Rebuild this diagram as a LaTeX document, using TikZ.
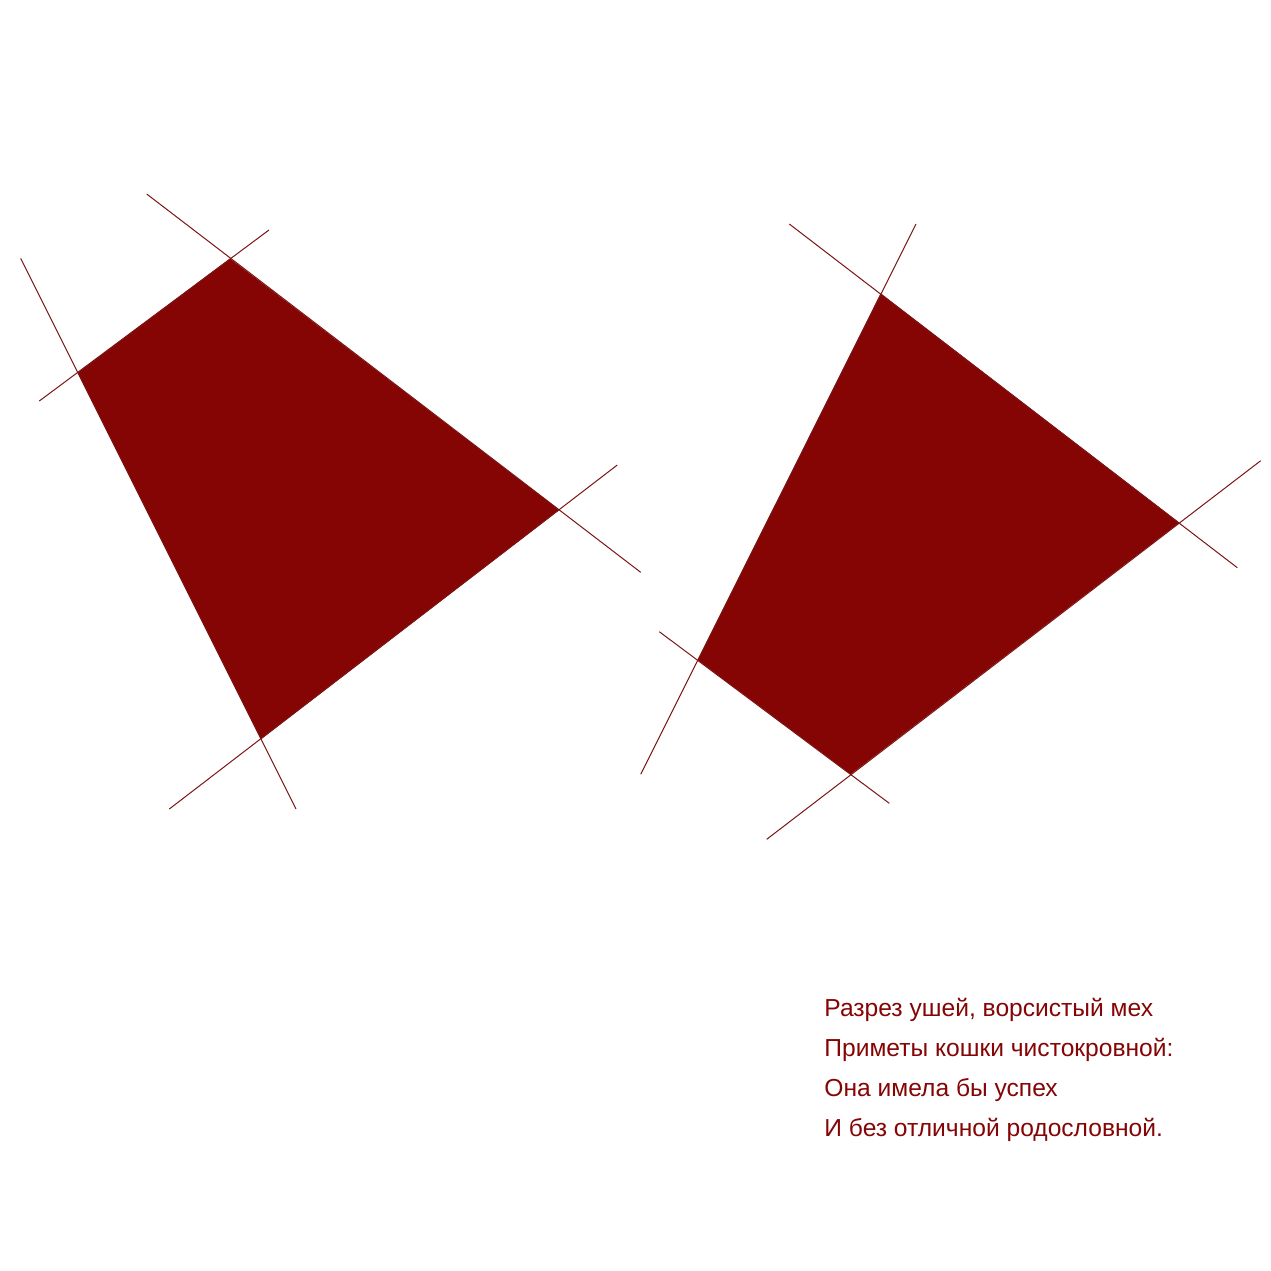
\documentclass[tikz,border=0pt]{standalone}
\usepackage{fontspec}
\setmainfont{Liberation Sans}
\usepackage{tikz}
\usetikzlibrary{positioning,calc}
\definecolor{catred}{RGB}{133,5,5}
\definecolor{linered}{RGB}{125,20,20}

\begin{document}
\begin{tikzpicture}[x=0.5pt, y=-0.5pt,
  ear/.style={fill=catred, draw=none},
  guide/.style={draw=linered, line width=0.5pt},
  verse/.style={anchor=base west, inner sep=0pt, text=catred, font=\fontsize{12.3}{14}\selectfont},
]
  \useasboundingbox (0,0) rectangle (1271,1271);

  % left ear
  \coordinate (lA) at (230,258.5);
  \coordinate (lB) at (77.7,372.7);
  \coordinate (lC) at (261,739.3);
  \coordinate (lD) at (559.3,510);
  \fill[ear] (lA) -- (lB) -- (lC) -- (lD) -- cycle;

  \coordinate (lAo) at (146.7,194);
  \coordinate (lDo) at (640.7,572.3);
  \coordinate (lAt) at (269,230);
  \coordinate (lBt) at (39.3,401);
  \coordinate (lBs) at (20.7,258.3);
  \coordinate (lCs) at (296,809);
  \coordinate (lCb) at (169.3,809);
  \coordinate (lDb) at (617.3,465);
  \draw[guide] (lAo) -- (lDo);
  \draw[guide] (lAt) -- (lBt);
  \draw[guide] (lBs) -- (lCs);
  \draw[guide] (lCb) -- (lDb);

  % right ear
  \coordinate (rA) at (880.7,293.3);
  \coordinate (rB) at (697.7,660);
  \coordinate (rC) at (850.7,774.3);
  \coordinate (rD) at (1179.3,522.7);
  \fill[ear] (rA) -- (rB) -- (rC) -- (rD) -- cycle;

  \coordinate (rAt) at (916,224);
  \coordinate (rBs) at (640.7,774.3);
  \coordinate (rAo) at (789.3,224);
  \coordinate (rDo) at (1237.3,567.7);
  \coordinate (rBo) at (659.3,631.7);
  \coordinate (rCo) at (889.3,803.3);
  \coordinate (rCb) at (766.7,839.3);
  \coordinate (rDb) at (1260.7,460.7);
  \draw[guide] (rAt) -- (rBs);
  \draw[guide] (rAo) -- (rDo);
  \draw[guide] (rBo) -- (rCo);
  \draw[guide] (rCb) -- (rDb);

  % verse
  \node[verse] (v1) at (824,1016.7) {Разрез ушей, ворсистый мех};
  \node[verse] (v2) at (824,1056.7) {Приметы кошки чистокровной:};
  \node[verse] (v3) at (824,1096.7) {Она имела бы успех};
  \node[verse] (v4) at (824,1136.7) {И без отличной родословной.};
\end{tikzpicture}
\end{document}
